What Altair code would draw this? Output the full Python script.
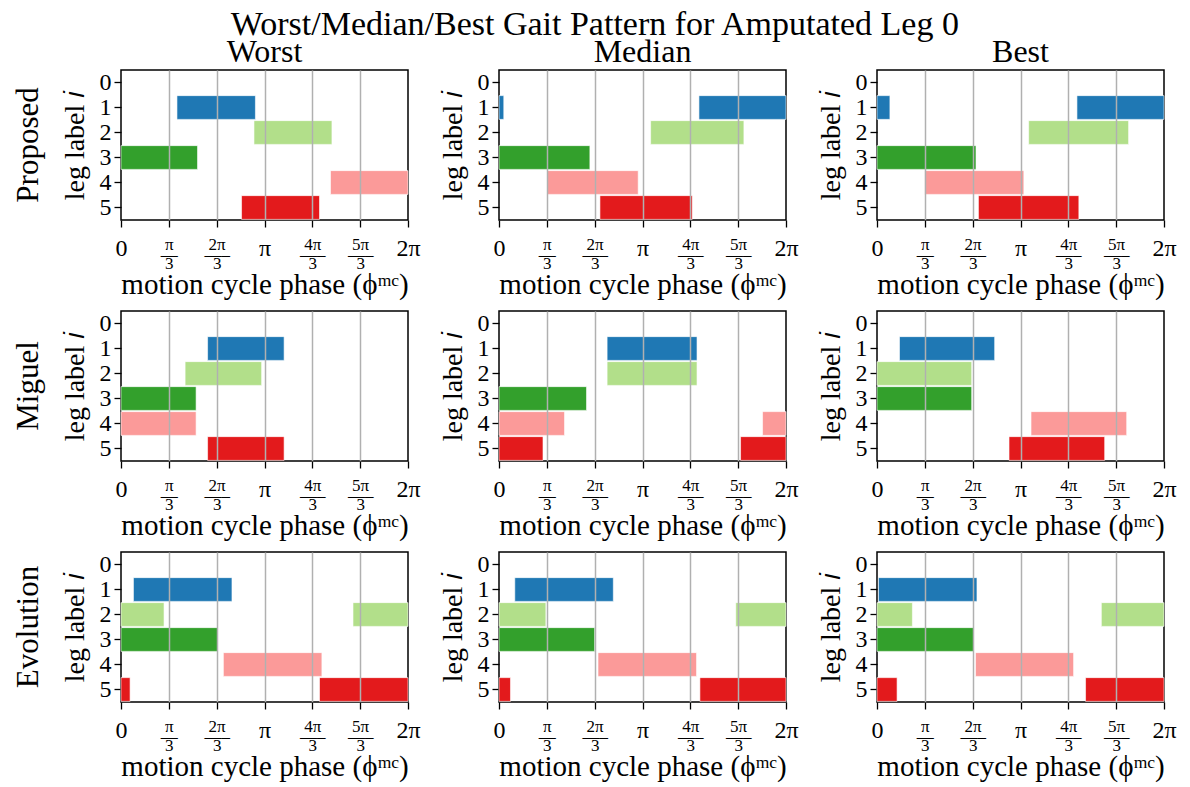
import math
import pandas as pd
import altair as alt

FONT = "Liberation Serif"

METHODS = ["Proposed", "Miguel", "Evolution"]
QUALITIES = ["Worst", "Median", "Best"]
LEGS = [0, 1, 2, 3, 4, 5]
SWING_LEGS = [1, 2, 3, 4, 5]
LEG_COLORS = ["#1f78b4", "#b2df8a", "#33a02c", "#fb9a99", "#e31a1c"]

# swing intervals: (leg, start, end), phases in units of pi/3
PROPOSED_WORST = [(1, 1.17, 2.81), (2, 2.78, 4.41), (3, 0.0, 1.60), (4, 4.38, 6.0), (5, 2.52, 4.15)]
PROPOSED_MEDIAN = [(1, 0.0, 0.10), (1, 4.18, 6.0), (2, 3.17, 5.12), (3, 0.0, 1.90), (4, 1.01, 2.91), (5, 2.11, 4.04)]
PROPOSED_BEST = [(1, 0.0, 0.27), (1, 4.18, 6.0), (2, 3.17, 5.26), (3, 0.0, 2.07), (4, 1.0, 3.07), (5, 2.12, 4.22)]
MIGUEL_WORST = [(1, 1.81, 3.41), (2, 1.34, 2.94), (3, 0.0, 1.57), (4, 0.0, 1.57), (5, 1.81, 3.41)]
MIGUEL_MEDIAN = [(1, 2.26, 4.14), (2, 2.26, 4.14), (3, 0.0, 1.83), (4, 0.0, 1.37), (4, 5.51, 6.0), (5, 0.0, 0.92), (5, 5.05, 6.0)]
MIGUEL_BEST = [(1, 0.47, 2.46), (2, 0.0, 1.98), (3, 0.0, 1.98), (4, 3.22, 5.22), (5, 2.76, 4.76)]
EVOLUTION_WORST = [(1, 0.26, 2.32), (2, 0.0, 0.90), (2, 4.85, 6.0), (3, 0.0, 2.02), (4, 2.14, 4.20), (5, 0.0, 0.19), (5, 4.15, 6.0)]
EVOLUTION_MEDIAN = [(1, 0.33, 2.39), (2, 0.0, 0.98), (2, 4.95, 6.0), (3, 0.0, 2.0), (4, 2.07, 4.13), (5, 0.0, 0.24), (5, 4.20, 6.0)]
EVOLUTION_BEST = [(1, 0.03, 2.09), (2, 0.0, 0.74), (2, 4.69, 6.0), (3, 0.0, 2.02), (4, 2.06, 4.11), (5, 0.0, 0.42), (5, 4.36, 6.0)]

PANELS = {
    ("Proposed", "Worst"): PROPOSED_WORST,
    ("Proposed", "Median"): PROPOSED_MEDIAN,
    ("Proposed", "Best"): PROPOSED_BEST,
    ("Miguel", "Worst"): MIGUEL_WORST,
    ("Miguel", "Median"): MIGUEL_MEDIAN,
    ("Miguel", "Best"): MIGUEL_BEST,
    ("Evolution", "Worst"): EVOLUTION_WORST,
    ("Evolution", "Median"): EVOLUTION_MEDIAN,
    ("Evolution", "Best"): EVOLUTION_BEST,
}

TICK_NUMERATORS = ["0", "π", "2π", "π", "4π", "5π", "2π"]
TICK_DENOMINATORS = ["", "3", "3", "", "3", "3", ""]

UNIT = math.pi / 3
rows = []
for (method, quality), intervals in PANELS.items():
    for leg, s, e in intervals:
        rows.append({"method": method, "quality": quality, "leg": leg,
                     "start": s * UNIT, "end": e * UNIT})
df = pd.DataFrame(rows)

tick_values = [k * UNIT for k in range(len(TICK_NUMERATORS))]
parts = []
for num, den in zip(TICK_NUMERATORS, TICK_DENOMINATORS):
    if den:
        bar = "—" if len(num) == 1 else "—–"
        parts.append('["%s","%s","%s"]' % (num, bar, den))
    else:
        parts.append('"%s"' % num)
label_expr = "[" + ",".join(parts) + "][round(datum.value*3/PI)]"

x_axis = alt.Axis(
    values=tick_values,
    labelExpr=label_expr,
    labelFont=FONT,
    labelFontSize={"condition": {"test": "round(datum.value*3/PI) % 3 != 0", "value": 17}, "value": 24},
    labelLineHeight=9.5,
    labelPadding=9.5,
    labelFlush=False,
    labelOverlap=False,
    labelColor="black",
    grid=True,
    gridColor="#b0b0b0",
    gridWidth=1.5,
    gridOpacity={"condition": {"test": "datum.value > 0.01 && datum.value < 6.27", "value": 1}, "value": 0},
    ticks=True,
    tickColor="black",
    tickSize=7,
    tickWidth=1.3,
    domain=False,
    title="motion cycle phase (ϕᵐᶜ)",
    titleFont=FONT,
    titleFontSize=29,
    titleFontWeight="normal",
    titleColor="black",
    titlePadding=-1,
    zindex=1,
)

y_axis = alt.Axis(
    labelFont=FONT,
    labelFontSize=24,
    labelPadding=3,
    labelColor="black",
    labelAngle=0,
    grid=False,
    ticks=True,
    tickColor="black",
    tickSize=7,
    tickWidth=1.3,
    domain=False,
    title="leg label 𝑖",
    titleFont=FONT,
    titleFontSize=28,
    titleFontWeight="normal",
    titleColor="black",
    titlePadding=10,
)

base = alt.Chart(df).mark_bar(stroke="white", strokeWidth=0.6).encode(
    x=alt.X("start:Q", scale=alt.Scale(domain=[0, 2 * math.pi], nice=False, zero=False), axis=x_axis),
    x2="end:Q",
    y=alt.Y("leg:O", scale=alt.Scale(domain=LEGS, paddingInner=0.05, paddingOuter=0.025), axis=y_axis),
    color=alt.Color("leg:N", scale=alt.Scale(domain=SWING_LEGS, range=LEG_COLORS), legend=None),
).properties(width=287, height=150)

chart = base.facet(
    row=alt.Row("method:N", sort=METHODS,
                header=alt.Header(title=None, labelFont=FONT, labelFontSize=31,
                                  labelPadding=0, labelAngle=-90, labelColor="black")),
    column=alt.Column("quality:N", sort=QUALITIES,
                      header=alt.Header(title=None, labelFont=FONT, labelFontSize=32,
                                        labelPadding=0, labelColor="black")),
    spacing={"row": 9, "column": 17},
).resolve_axis(
    x="independent", y="independent"
).properties(
    padding={"left": 4, "top": 0, "right": 0, "bottom": 0},
    title=alt.TitleParams("Worst/Median/Best Gait Pattern for Amputated Leg 0",
                          font=FONT, fontSize=34, fontWeight="normal", color="black",
                          anchor="middle", frame="bounds", offset=-9, dy=-3)
).configure(
    font=FONT
).configure_view(
    stroke="black", strokeWidth=1.5
)

chart.save("out.html", embed_options={"renderer": "svg", "actions": False})
